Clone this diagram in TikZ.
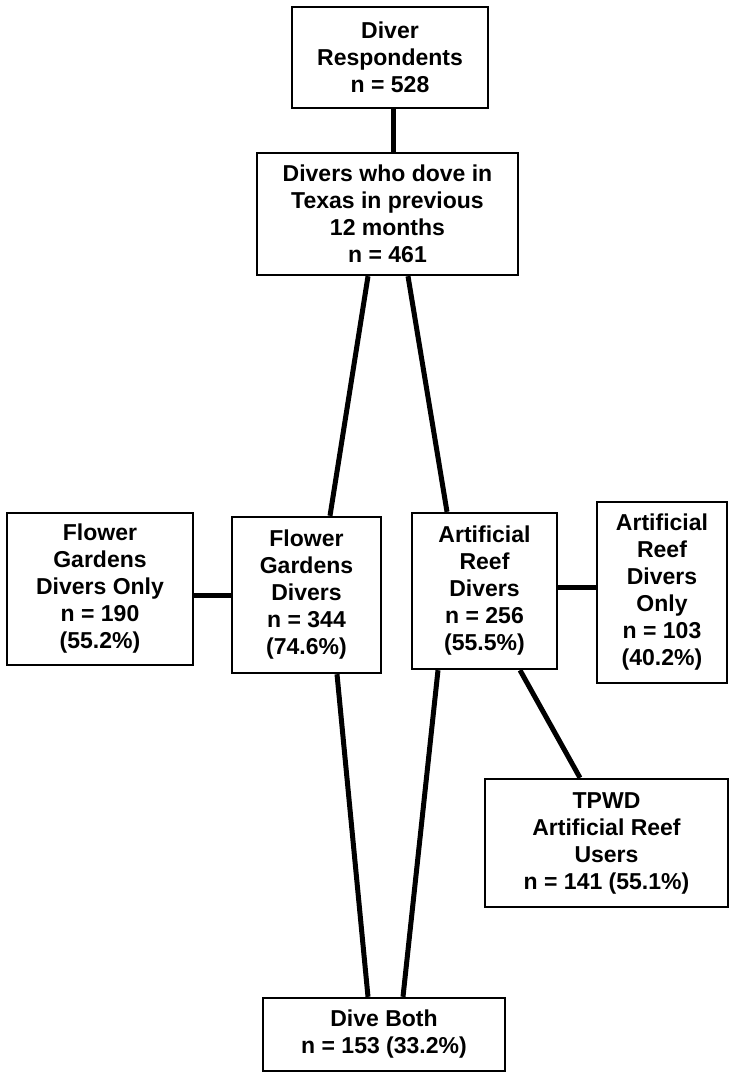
\documentclass[tikz,border=0pt]{standalone}
\usepackage{fontspec}
\setmainfont{Liberation Sans}
\begin{document}
\begin{tikzpicture}[x=1pt,y=-1pt,
  box/.style={draw,line width=2.4pt,align=center,inner sep=0pt,
    font=\fontsize{23}{27}\selectfont\bfseries},
  link/.style={line width=5pt}]
\useasboundingbox (0,0) rectangle (730,1074);
\node[box,minimum width=196pt,minimum height=101pt] (b1) at (390,57.5) {Diver\\Respondents\\n = 528};
\node[box,minimum width=261pt,minimum height=122pt] (b2) at (387.5,214) {Divers who dove in\\Texas in previous\\12 months\\n = 461};
\node[box,minimum width=186pt,minimum height=152pt] (fgo) at (100,589) {Flower\\Gardens\\Divers Only\\n = 190\\(55.2\%)};
\node[box,minimum width=149pt,minimum height=156pt] (fg) at (306.5,595) {Flower\\Gardens\\Divers\\n = 344\\(74.6\%)};
\node[box,minimum width=145pt,minimum height=156pt] (ar) at (484.5,591) {Artificial\\Reef\\Divers\\n = 256\\(55.5\%)};
\node[box,minimum width=130pt,minimum height=181pt] (aro) at (662,592.5) {Artificial\\Reef\\Divers\\Only\\n = 103\\(40.2\%)};
\node[box,minimum width=243pt,minimum height=128pt] (tp) at (606.5,843) {TPWD\\Artificial Reef\\Users\\n = 141 (55.1\%)};
\node[box,minimum width=242pt,minimum height=73pt] (db) at (384,1034.5) {Dive Both\\n = 153 (33.2\%)};
\draw[link] ([xshift=3pt]b1.south) -- ([xshift=5.5pt]b2.north);
\draw[link] ([xshift=-19.5pt]b2.south) -- ([xshift=23.5pt]fg.north);
\draw[link] ([xshift=20.5pt]b2.south) -- ([xshift=-37.5pt]ar.north);
\draw[link] (fg.west) -- (fg.west -| fgo.east);
\draw[link] ([yshift=4pt]ar.east) -- ([yshift=4pt]ar.east -| aro.west);
\draw[link] ([xshift=35.5pt]ar.south) -- ([xshift=-26.5pt]tp.north);
\draw[link] ([xshift=30.5pt]fg.south) -- ([xshift=-16pt]db.north);
\draw[link] ([xshift=-46.5pt]ar.south) -- ([xshift=19pt]db.north);
\end{tikzpicture}
\end{document}
